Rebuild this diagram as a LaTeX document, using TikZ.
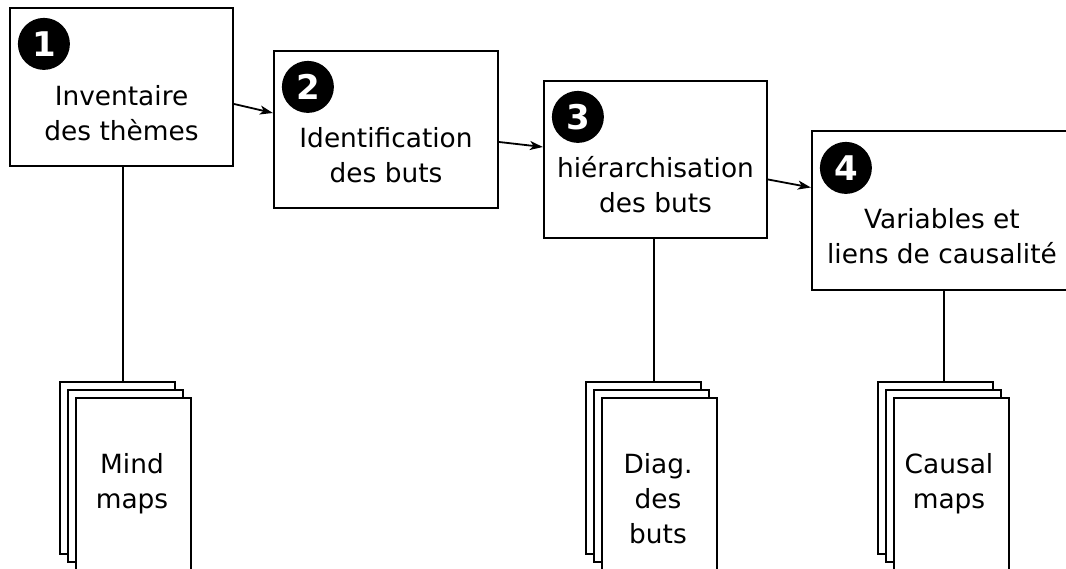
\documentclass[tikz,border=0pt]{standalone}
\usepackage{fontspec}
\setmainfont{DejaVu Sans}
\usetikzlibrary{calc,arrows.meta}
\begin{document}
\begin{tikzpicture}[x=1pt,y=-1pt,
  box/.style={draw,line width=2.2pt,fill=white,inner sep=0pt,rectangle},
  sheet/.style={draw,line width=2.2pt,fill=white,inner sep=0pt,rectangle,minimum width=115pt,minimum height=172pt},
  numcirc/.style={circle,fill=black,inner sep=0pt,minimum size=52pt,text=white,font=\fontsize{34}{34}\selectfont\bfseries},
  txt/.style={inner sep=0pt,anchor=base,font=\fontsize{26.4}{35}\selectfont},
  link/.style={line width=1.8pt,-{Stealth[length=13pt,width=9pt,inset=3.5pt]}},
  conn/.style={line width=2pt}]
\useasboundingbox (0,0) rectangle (1066,569);
% boxes
\node[box,minimum width=223pt,minimum height=158pt] (b1) at (121.5,87) {};
\node[box,minimum width=224pt,minimum height=157pt] (b2) at (386,129.5) {};
\node[box,minimum width=223pt,minimum height=157pt] (b3) at (655.5,159.5) {};
\node[box,minimum width=260pt,minimum height=159pt] (b4) at (942,210.5) {};
% numbers
\node[numcirc] (n1) at ($(b1.north west)+(35,37)$) {1};
\node[numcirc] (n2) at ($(b2.north west)+(35,37)$) {2};
\node[numcirc] (n3) at ($(b3.north west)+(35,37)$) {3};
\node[numcirc] (n4) at ($(b4.north west)+(35,38)$) {4};
% box texts
\node[txt] (t1a) at ($(b1.north)+(0,99)$) {Inventaire};
\node[txt] (t1b) at ($(b1.north)+(0,134)$) {des thèmes};
\node[txt] (t2a) at ($(b2.north)+(0,98)$) {Identification};
\node[txt] (t2b) at ($(b2.north)+(0,133)$) {des buts};
\node[txt] (t3a) at ($(b3.north)+(0,98)$) {hiérarchisation};
\node[txt] (t3b) at ($(b3.north)+(0,133)$) {des buts};
\node[txt] (t4a) at ($(b4.north)+(0,99)$) {Variables et};
\node[txt] (t4b) at ($(b4.north)+(0,134)$) {liens de causalité};
% arrows
\draw[link] ([yshift=-17pt]b1.east) -- ([yshift=16.5pt]b2.west);
\draw[link] ([yshift=-12.5pt]b2.east) -- ([yshift=12.5pt]b3.west);
\draw[link] ([yshift=-20pt]b3.east) -- ([yshift=23pt]b4.west);
% stacks
\node[sheet] (s1a) at (117.5,468) {};
\node[sheet] (s1b) at (125.5,476) {};
\node[sheet] (s1c) at (133.5,484) {};
\node[sheet] (s2a) at (643.5,468) {};
\node[sheet] (s2b) at (651.5,476) {};
\node[sheet] (s2c) at (659.5,484) {};
\node[sheet] (s3a) at (935.5,468) {};
\node[sheet] (s3b) at (943.5,476) {};
\node[sheet] (s3c) at (951.5,484) {};
% stack texts
\node[txt] (m1) at (132,473) {Mind};
\node[txt] (m2) at (132,508) {maps};
\node[txt] (d1) at (658,473) {Diag.};
\node[txt] (d2) at (658,508) {des};
\node[txt] (d3) at (658,543) {buts};
\node[txt] (c1) at (949,473) {Causal};
\node[txt] (c2) at (949,508) {maps};
% connectors
\draw[conn] ([xshift=1.5pt]b1.south) -- ([xshift=1.5pt]b1.south |- s1a.north);
\draw[conn] ([xshift=-2pt]b3.south) -- ([xshift=-2pt]b3.south |- s2a.north);
\draw[conn] ([xshift=2pt]b4.south) -- ([xshift=2pt]b4.south |- s3a.north);
\end{tikzpicture}
\end{document}
